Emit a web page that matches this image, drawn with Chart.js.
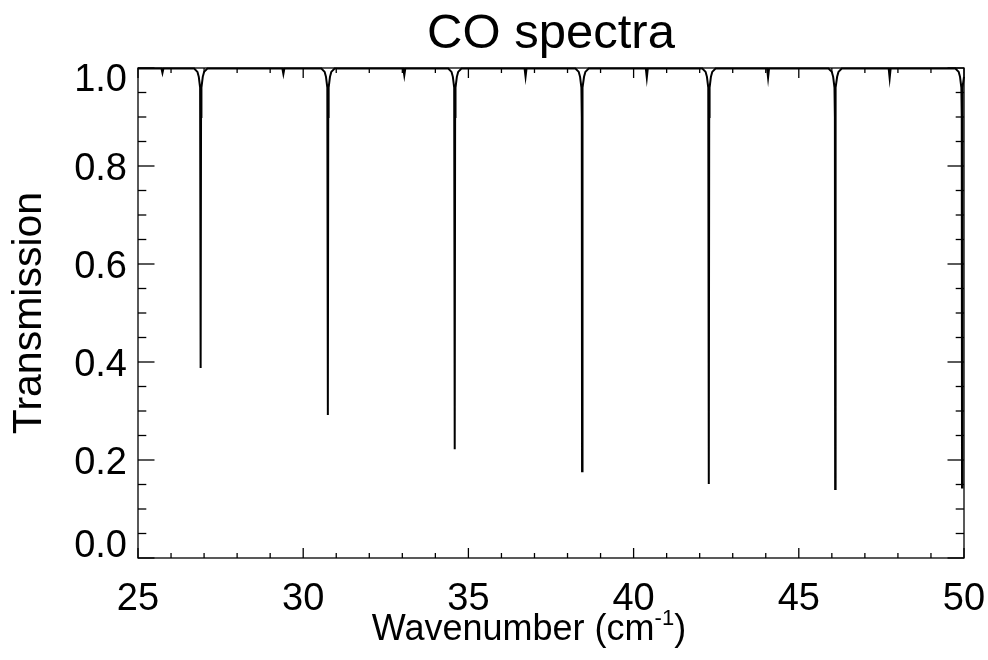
<!DOCTYPE html>
<html>
<head>
<meta charset="utf-8">
<script src="https://cdn.jsdelivr.net/npm/chart.js@4.4.1/dist/chart.umd.min.js"></script>
<style>
  html, body { margin: 0; padding: 0; background: #fff; }
  #wrap { width: 988px; height: 660px; }
</style>
</head>
<body>
<div id="wrap"><canvas id="coSpectraChart"></canvas></div>
<script>
// Espectro: cm^-1 vs transmisión
const wavenumber = [
  25.00,
  25.71, 25.74, 25.77,
  26.70, 26.80, 26.84, 26.88, 26.892, 26.90, 26.908, 26.92, 26.96, 27.00, 27.10,
  29.37, 29.40, 29.43,
  30.55, 30.65, 30.69, 30.73, 30.742, 30.75, 30.758, 30.77, 30.81, 30.85, 30.95,
  33.03, 33.06, 33.09,
  34.39, 34.49, 34.53, 34.57, 34.582, 34.59, 34.598, 34.61, 34.65, 34.69, 34.79,
  36.70, 36.73, 36.76,
  38.24, 38.34, 38.38, 38.42, 38.432, 38.44, 38.448, 38.46, 38.50, 38.54, 38.64,
  40.37, 40.40, 40.43,
  42.08, 42.18, 42.22, 42.26, 42.272, 42.28, 42.288, 42.30, 42.34, 42.38, 42.48,
  44.04, 44.07, 44.10,
  45.90, 46.00, 46.04, 46.08, 46.092, 46.10, 46.108, 46.12, 46.16, 46.20, 46.30,
  47.72, 47.75, 47.78,
  49.74, 49.84, 49.88, 49.92, 49.932, 49.94, 49.948, 49.96, 50.00
];
const transmission = [
  0.999,
  0.999, 0.990, 0.999,
  0.999, 0.992, 0.982, 0.960, 0.900, 0.388, 0.900, 0.960, 0.982, 0.992, 0.999,
  0.999, 0.988, 0.999,
  0.999, 0.992, 0.982, 0.960, 0.900, 0.292, 0.900, 0.960, 0.982, 0.992, 0.999,
  0.999, 0.985, 0.999,
  0.999, 0.992, 0.982, 0.960, 0.900, 0.222, 0.900, 0.960, 0.982, 0.992, 0.999,
  0.999, 0.982, 0.999,
  0.999, 0.992, 0.982, 0.960, 0.900, 0.177, 0.900, 0.960, 0.982, 0.992, 0.999,
  0.999, 0.980, 0.999,
  0.999, 0.992, 0.982, 0.960, 0.900, 0.151, 0.900, 0.960, 0.982, 0.992, 0.999,
  0.999, 0.980, 0.999,
  0.999, 0.992, 0.982, 0.960, 0.900, 0.141, 0.900, 0.960, 0.982, 0.992, 0.999,
  0.999, 0.979, 0.999,
  0.999, 0.992, 0.982, 0.960, 0.900, 0.144, 0.900, 0.960, 0.982
];

const xTickValues = [25, 30, 35, 40, 45, 50];
const xTickLabels = ['25', '30', '35', '40', '45', '50'];
const yTickValues = [0, 0.2, 0.4, 0.6, 0.8, 1.0];
const yTickLabels = ['0.0', '0.2', '0.4', '0.6', '0.8', '1.0'];

const X_MIN = 25, X_MAX = 50, Y_MIN = 0, Y_MAX = 1;
const FONT = "'Liberation Sans', Arial, Helvetica, sans-serif";

// Marco estilo IDL: caja completa, ticks hacia dentro y textos
const idlFrame = {
  id: 'idlFrame',
  afterDraw(chart) {
    const { ctx, chartArea: a, scales } = chart;
    const xs = scales.x, ys = scales.y;
    ctx.save();
    ctx.strokeStyle = '#000';
    ctx.lineWidth = 1.3;
    ctx.strokeRect(a.left, a.top, a.right - a.left, a.bottom - a.top);

    const seg = (x1, y1, x2, y2) => {
      ctx.beginPath(); ctx.moveTo(x1, y1); ctx.lineTo(x2, y2); ctx.stroke();
    };
    // ticks eje x (menores cada 1, mayores cada 5)
    for (let v = X_MIN; v <= X_MAX + 1e-9; v += 1) {
      const px = xs.getPixelForValue(v);
      const len = (v % 5 === 0) ? 10 : 5;
      seg(px, a.bottom, px, a.bottom - len);
      seg(px, a.top, px, a.top + len);
    }
    // ticks eje y (menores cada 0.05, mayores cada 0.2)
    for (let i = 0; i <= 20; i++) {
      const py = ys.getPixelForValue(i * 0.05);
      const len = (i % 4 === 0) ? 16.5 : 8.3;
      seg(a.left, py, a.left + len, py);
      seg(a.right, py, a.right - len, py);
    }

    ctx.fillStyle = '#000';
    // etiquetas x
    ctx.font = `38px ${FONT}`;
    ctx.textAlign = 'center';
    ctx.textBaseline = 'alphabetic';
    xTickValues.forEach((v, i) => {
      ctx.fillText(xTickLabels[i], xs.getPixelForValue(v), 610);
    });
    // etiquetas y (las extremas quedan dentro de la caja, como en IDL)
    ctx.textAlign = 'right';
    yTickValues.forEach((v, i) => {
      let cy = ys.getPixelForValue(v);
      cy = Math.min(Math.max(cy, a.top + 9.5), a.bottom - 15);
      ctx.fillText(yTickLabels[i], a.left - 11, cy + 13.6);
    });

    // título
    ctx.textAlign = 'center';
    ctx.font = `49px ${FONT}`;
    ctx.fillText('CO spectra', (a.left + a.right) / 2, 48);

    // título eje x con superíndice
    const main1 = 'Wavenumber (cm', sup = '-1', main2 = ')';
    ctx.font = `36px ${FONT}`;
    const w1 = ctx.measureText(main1).width, w3 = ctx.measureText(main2).width;
    ctx.font = `22px ${FONT}`;
    const w2 = ctx.measureText(sup).width;
    const sx = 529 - (w1 + w2 + w3) / 2;
    ctx.textAlign = 'left';
    ctx.font = `36px ${FONT}`;
    ctx.fillText(main1, sx, 640);
    ctx.font = `22px ${FONT}`;
    ctx.fillText(sup, sx + w1, 625);
    ctx.font = `36px ${FONT}`;
    ctx.fillText(main2, sx + w1 + w2, 640);

    // título eje y
    ctx.translate(40.7, (a.top + a.bottom) / 2);
    ctx.rotate(-Math.PI / 2);
    ctx.textAlign = 'center';
    ctx.font = `41px ${FONT}`;
    ctx.fillText('Transmission', 0, 0);
    ctx.restore();
  }
};

const ctx = document.getElementById('coSpectraChart').getContext('2d');
new Chart(ctx, {
  type: 'line',
  data: {
    datasets: [{
      label: 'CO',
      data: wavenumber.map((w, i) => ({ x: w, y: transmission[i] })),
      borderColor: '#000',
      borderWidth: 2,
      pointRadius: 0,
      tension: 0,
      fill: false,
      clip: 4
    }]
  },
  plugins: [idlFrame],
  options: {
    responsive: true,
    maintainAspectRatio: false,
    animation: false,
    layout: { padding: { top: 68, right: 24, left: 0, bottom: 0 } },
    plugins: { legend: { display: false }, title: { display: false }, tooltip: { enabled: false } },
    scales: {
      x: {
        type: 'linear', min: X_MIN, max: X_MAX,
        grid: { display: false }, border: { display: false },
        ticks: { display: false },
        afterFit: s => { s.height = 102; }
      },
      y: {
        type: 'linear', min: Y_MIN, max: Y_MAX,
        grid: { display: false }, border: { display: false },
        ticks: { display: false },
        afterFit: s => { s.width = 138; }
      }
    }
  }
});
</script>
</body>
</html>
